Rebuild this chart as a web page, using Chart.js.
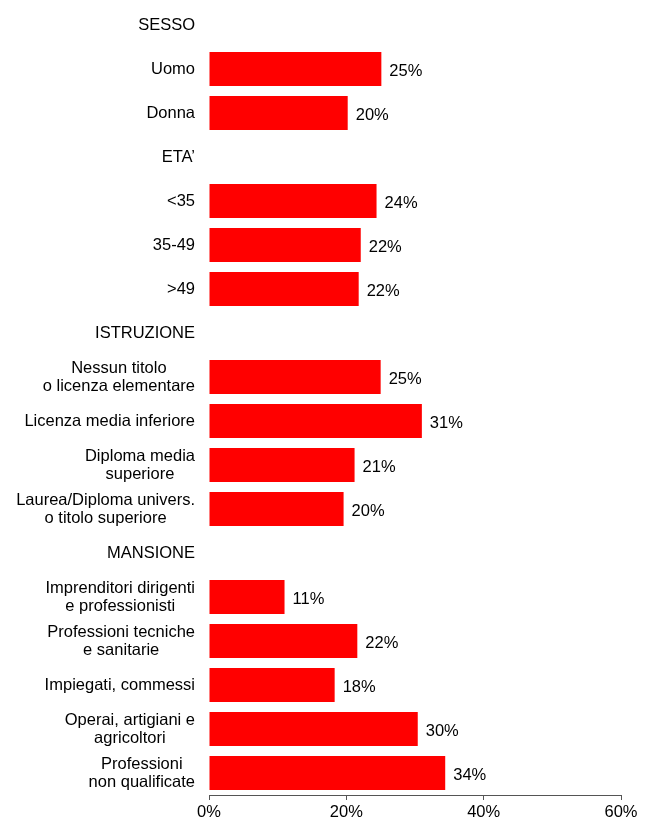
<!DOCTYPE html>
<html>
<head>
<meta charset="utf-8">
<script src="https://cdn.jsdelivr.net/npm/chart.js@4"></script>
<style>
  body { margin: 0; background: #fff; }
  canvas { display: block; }
</style>
</head>
<body>
<canvas id="chart" width="651" height="822"></canvas>
<script>
// categories (header rows have no value)
const categories = [
    ['SESSO'],
    ['Uomo'],
    ['Donna'],
    ['ETA\u2019'],
    ['<35'],
    ['35-49'],
    ['>49'],
    ['ISTRUZIONE'],
    ['Nessun titolo', 'o licenza elementare'],
    ['Licenza media inferiore'],
    ['Diploma media', 'superiore'],
    ['Laurea/Diploma univers.', 'o titolo superiore'],
    ['MANSIONE'],
    ['Imprenditori dirigenti', 'e professionisti'],
    ['Professioni tecniche', 'e sanitarie'],
    ['Impiegati, commessi'],
    ['Operai, artigiani e', 'agricoltori'],
    ['Professioni', 'non qualificate']
];
const values = [null, 25.1, 20.2, null, 24.4, 22.1, 21.8, null, 25.0, 31.0, 21.2, 19.6, null, 11.0, 21.6, 18.3, 30.4, 34.4];
const xTicks = [0, 20, 40, 60];

const FAMILY = '"Liberation Sans", Arial, sans-serif';
const FONT = '16.5px ' + FAMILY;

// draws category labels (right-aligned blocks, centred lines) and value labels
const labelPlugin = {
    id: 'labels',
    afterDraw(chart) {
        const ctx = chart.ctx;
        const yScale = chart.scales.y;
        const meta = chart.getDatasetMeta(0);
        ctx.save();
        ctx.font = FONT;
        ctx.fillStyle = '#000';
        ctx.textBaseline = 'middle';
        const right = chart.chartArea.left - 14;
        const lineH = 18;
        categories.forEach((lines, i) => {
            const y = yScale.getPixelForTick(i);
            const w = Math.max(...lines.map(l => ctx.measureText(l).width));
            const cx = right - w / 2;
            ctx.textAlign = 'center';
            lines.forEach((l, j) => {
                ctx.fillText(l, cx, y + (j - (lines.length - 1) / 2) * lineH);
            });
        });
        ctx.textAlign = 'left';
        meta.data.forEach((bar, i) => {
            if (values[i] == null) return;
            ctx.fillText(Math.round(values[i]) + '%', bar.x + 8, bar.y + 2);
        });
        ctx.restore();
    }
};

new Chart(document.getElementById('chart'), {
    type: 'bar',
    data: {
        labels: categories,
        datasets: [{
            data: values,
            backgroundColor: '#ff0000',
            borderWidth: 0,
            barPercentage: 34 / 44,
            categoryPercentage: 1
        }]
    },
    plugins: [labelPlugin],
    options: {
        indexAxis: 'y',
        responsive: false,
        animation: false,
        layout: { padding: { left: 209, right: 30, top: 3, bottom: 0 } },
        plugins: { legend: { display: false }, tooltip: { enabled: false } },
        scales: {
            y: {
                display: false
            },
            x: {
                min: 0,
                max: 60,
                afterBuildTicks: s => { s.ticks = xTicks.map(v => ({ value: v })); },
                afterFit: s => { s.height = 27; },
                ticks: {
                    color: '#000',
                    font: { family: FAMILY, size: 16.5 },
                    padding: 3,
                    maxRotation: 0,
                    callback: v => v + '%'
                },
                grid: { drawOnChartArea: false, drawTicks: true, tickLength: 5, color: '#555' },
                border: { display: true, color: '#555' }
            }
        }
    }
});
</script>
</body>
</html>
